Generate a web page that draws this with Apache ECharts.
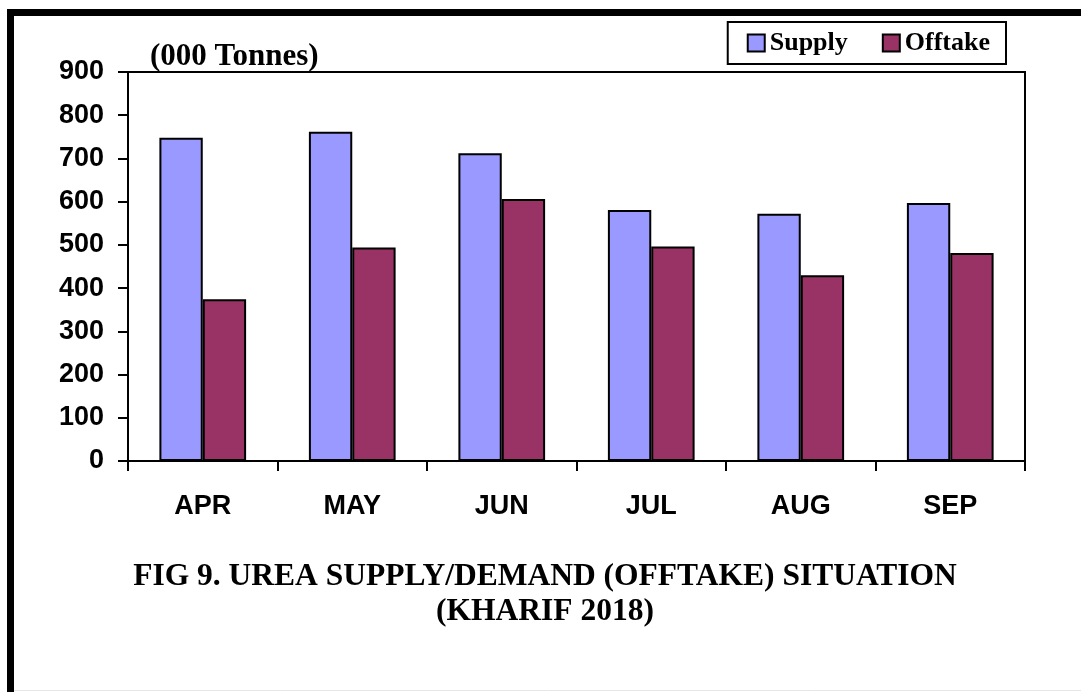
<!DOCTYPE html>
<html>
<head>
<meta charset="utf-8">
<title>Urea supply / offtake</title>
<script src="https://cdn.jsdelivr.net/npm/echarts@6/dist/echarts.min.js"></script>
<style>
  html, body { margin: 0; padding: 0; background: #fff; }
  #main { width: 1081px; height: 692px; }
</style>
</head>
<body>
<div id="main"></div>
<script>
// chart data (000 Tonnes)
var months = ['APR', 'MAY', 'JUN', 'JUL', 'AUG', 'SEP'];
var supply = [748, 762, 712, 581, 572, 597];
var offtake = [374, 494, 606, 496, 430, 481];
var yTicks = [0, 100, 200, 300, 400, 500, 600, 700, 800, 900];

var myChart = echarts.init(document.getElementById('main'));

var serif = '"Liberation Serif", "Times New Roman", serif';
var sans = '"Liberation Sans", Arial, sans-serif';

var option = {
  backgroundColor: '#fff',
  animation: false,
  title: {
    text: 'FIG 9. UREA SUPPLY/DEMAND (OFFTAKE) SITUATION\n(KHARIF 2018)',
    left: 545,
    top: 559,
    padding: 0,
    textAlign: 'center',
    textStyle: {
      fontFamily: serif,
      fontWeight: 'bold',
      fontSize: 31.5,
      lineHeight: 35,
      color: '#000'
    }
  },
  legend: {
    data: ['Supply', 'Offtake'],
    right: 75,
    top: 22,
    padding: [8, 16, 8, 19],
    itemGap: 34,
    itemWidth: 17,
    itemHeight: 17,
    icon: 'rect',
    borderColor: '#000',
    borderWidth: 2,
    itemStyle: { borderColor: '#000', borderWidth: 2 },
    textStyle: {
      fontFamily: serif,
      fontWeight: 'bold',
      fontSize: 26,
      color: '#000'
    }
  },
  grid: {
    left: 128,
    right: 56,
    top: 72,
    bottom: 231,
    show: true,
    borderColor: '#000',
    borderWidth: 2,
    containLabel: false
  },
  xAxis: {
    type: 'category',
    data: months,
    axisLine: { lineStyle: { color: '#000', width: 2 } },
    axisTick: { show: true, length: 10, lineStyle: { color: '#000', width: 2 } },
    axisLabel: {
      margin: 32,
      fontFamily: sans,
      fontWeight: 'bold',
      fontSize: 27,
      color: '#000'
    }
  },
  yAxis: {
    type: 'value',
    min: yTicks[0],
    max: yTicks[yTicks.length - 1],
    interval: 100,
    splitLine: { show: false },
    axisLine: { show: true, lineStyle: { color: '#000', width: 2 } },
    axisTick: { show: true, length: 10, lineStyle: { color: '#000', width: 2 } },
    axisLabel: {
      margin: 24,
      fontFamily: sans,
      fontWeight: 'bold',
      fontSize: 27,
      color: '#000'
    }
  },
  series: [
    {
      name: 'Supply',
      type: 'bar',
      data: supply,
      barGap: '0%',
      barCategoryGap: '42%',
      itemStyle: { color: '#9999FF', borderColor: '#000', borderWidth: 2 }
    },
    {
      name: 'Offtake',
      type: 'bar',
      data: offtake,
      itemStyle: { color: '#993366', borderColor: '#000', borderWidth: 2 }
    }
  ],
  graphic: [
    // unit label above the axis
    {
      type: 'text',
      left: 150,
      top: 41,
      style: {
        text: '(000 Tonnes)',
        font: 'bold 31px ' + serif,
        fill: '#000'
      }
    },
    // thick frame on the left and top
    {
      type: 'rect',
      shape: { x: 7, y: 9, width: 7, height: 683 },
      style: { fill: '#000' }
    },
    {
      type: 'rect',
      shape: { x: 7, y: 9, width: 1074, height: 7 },
      style: { fill: '#000' }
    },
    {
      type: 'line',
      shape: { x1: 14, y1: 690.5, x2: 1081, y2: 690.5 },
      style: { stroke: '#e6e6e6', lineWidth: 1 }
    }
  ]
};

myChart.setOption(option);
</script>
</body>
</html>
